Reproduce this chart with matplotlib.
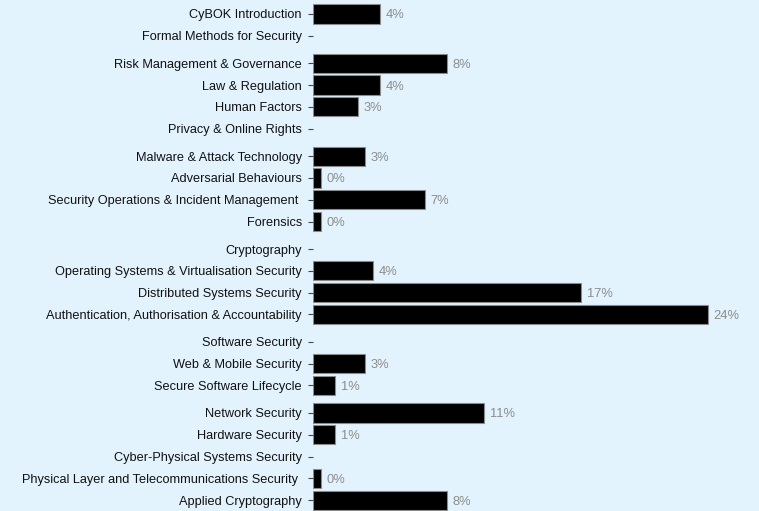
import matplotlib
matplotlib.use('Agg')
import matplotlib.pyplot as plt
import numpy as np

# knowledge areas, grouped (a small gap is drawn between groups)
groups = [
    ['CyBOK Introduction', 'Formal Methods for Security'],
    ['Risk Management & Governance', 'Law & Regulation', 'Human Factors',
     'Privacy & Online Rights'],
    ['Malware & Attack Technology', 'Adversarial Behaviours',
     'Security Operations & Incident Management ', 'Forensics'],
    ['Cryptography', 'Operating Systems & Virtualisation Security',
     'Distributed Systems Security',
     'Authentication, Authorisation & Accountability'],
    ['Software Security', 'Web & Mobile Security', 'Secure Software Lifecycle'],
    ['Network Security', 'Hardware Security', 'Cyber-Physical Systems Security',
     'Physical Layer and Telecommunications Security ', 'Applied Cryptography'],
]

# share in percent, None = no bar
values = [
    [4.15, None],
    [8.3, 4.15, 2.8, None],
    [3.2, 0.47, 6.9, 0.47],
    [None, 3.7, 16.6, 24.4],
    [None, 3.2, 1.38],
    [10.6, 1.38, None, 0.47, 8.3],
]

bg = '#e3f3fe'
W, H = 759, 511
fig = plt.figure(figsize=(W / 100, H / 100), dpi=100, facecolor=bg)
plt.rcParams['font.family'] = ['Liberation Sans', 'DejaVu Sans']

gap = 0.26
labels, vals, ypos = [], [], []
y = 0.0
for gi, (g, v) in enumerate(zip(groups, values)):
    if gi > 0:
        y += gap
    for name, val in zip(g, v):
        labels.append(name)
        vals.append(val)
        ypos.append(y)
        y += 1
ypos = np.array(ypos)

# pixel layout: first row centre at 14px, spacing 21.8px
step = 21.8
top_px = 14 - 0.5 * step
bot_px = top_px + (ypos[-1] + 1) * step
left_px, right_px = 313, 759
ax = fig.add_axes([left_px / W, 1 - bot_px / H, (right_px - left_px) / W,
                   (bot_px - top_px) / H])
ax.set_facecolor(bg)

xmax = 24.4 * (right_px - left_px) / 394.6
for yy, v in zip(ypos, vals):
    if v is None:
        continue
    ax.barh(yy, v, height=0.88, color='black', edgecolor='#8a8a8a', linewidth=0.8)
    ax.text(v + 0.35, yy, f'{v:.0f}%', va='center_baseline', ha='left',
            color='#8c8c8c', fontsize=9.3)

ax.set_xlim(0, xmax)
ax.set_ylim(ypos[-1] + 0.5, -0.5)
ax.set_yticks(ypos)
ax.set_yticklabels(labels, fontsize=9.2, color='#111111')
ax.tick_params(axis='y', length=3.5, width=0.8, color='#444444', pad=4.5)
ax.set_xticks([])
for s in ax.spines.values():
    s.set_visible(False)

fig.savefig('out.png', dpi=100, facecolor=bg)
